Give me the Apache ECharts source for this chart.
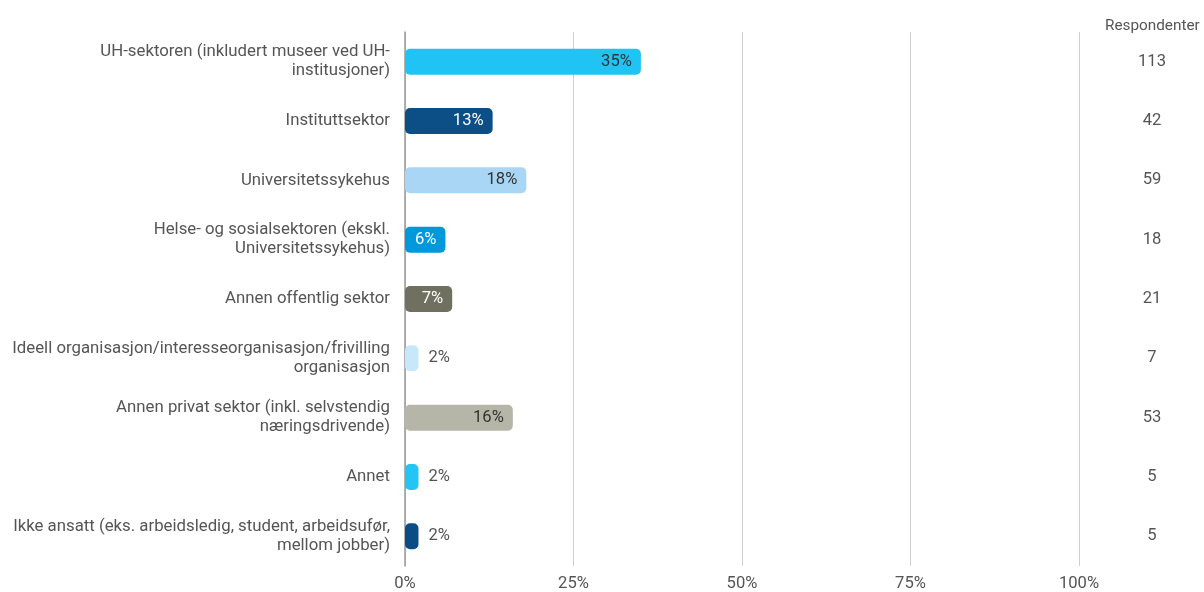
<!DOCTYPE html>
<html><head><meta charset="utf-8">
<script src="https://cdn.jsdelivr.net/npm/echarts@6/dist/echarts.min.js"></script>
<style>html,body{margin:0;padding:0;background:#fff}#c{width:1204px;height:592px}</style>
</head><body><div id="c"></div>
<script>
const categories = [
  "UH-sektoren (inkludert museer ved UH-\ninstitusjoner)",
  "Instituttsektor",
  "Universitetssykehus",
  "Helse- og sosialsektoren (ekskl.\nUniversitetssykehus)",
  "Annen offentlig sektor",
  "Ideell organisasjon/interesseorganisasjon/frivilling\norganisasjon",
  "Annen privat sektor (inkl. selvstendig\nnæringsdrivende)",
  "Annet",
  "Ikke ansatt (eks. arbeidsledig, student, arbeidsufør,\nmellom jobber)"
];
const percents = [35, 13, 18, 6, 7, 2, 16, 2, 2];
const respondents = [113, 42, 59, 18, 21, 7, 53, 5, 5];
const barColors = ["#20C4F4", "#0B4F86", "#A9D6F5", "#0098DC", "#707061", "#C6E8FA", "#B6B6A8", "#22C5F3", "#0A4C85"];
const labelColors = ["#333333", "#ffffff", "#333333", "#ffffff", "#ffffff", "#555555", "#333333", "#555555", "#555555"];
const xTicks = [0, 25, 50, 75, 100];

const FS = 16.6;
const chart = echarts.init(document.getElementById('c'));
chart.setOption({
  animation: false,
  textStyle: {fontFamily: 'Roboto'},
  title: {text: 'Respondenter', left: 1100, top: 14, textStyle: {fontSize: 15.3, fontWeight: 'normal', color: '#555', fontFamily: 'Roboto'}},
  grid: {left: 405, right: 125, top: 32, bottom: 26, containLabel: false},
  xAxis: {
    type: 'value', min: 0, max: 100, interval: 25,
    axisLabel: {formatter: v => xTicks.includes(v) ? v + '%' : '', color: '#555', fontSize: FS, margin: 9},
    splitLine: {show: true, lineStyle: {color: '#cfcfcf', width: 1}},
    axisLine: {show: false}, axisTick: {show: false}
  },
  yAxis: [{
    type: 'category', data: categories, inverse: true,
    axisLine: {show: true, lineStyle: {color: '#999', width: 1.5}},
    axisTick: {show: false},
    axisLabel: {color: '#555', fontSize: 16.8, lineHeight: 19, margin: 15, align: 'right'}
  }, {
    type: 'category', data: respondents.map(String), inverse: true, position: 'right',
    axisLine: {show: false}, axisTick: {show: false},
    axisLabel: {color: '#555', fontSize: FS, margin: 73, align: 'center'}
  }],
  series: [{
    type: 'bar', barWidth: 26,
    data: percents.map((v, i) => ({
      value: v,
      itemStyle: {color: barColors[i], borderRadius: 5},
      label: v < 4
        ? {show: true, position: 'right', distance: 10, color: labelColors[i]}
        : {show: true, position: 'insideRight', distance: 9, color: labelColors[i]}
    })),
    label: {show: true, formatter: p => p.value + '%', fontSize: FS, fontFamily: 'Roboto'}
  }]
});
</script></body></html>
